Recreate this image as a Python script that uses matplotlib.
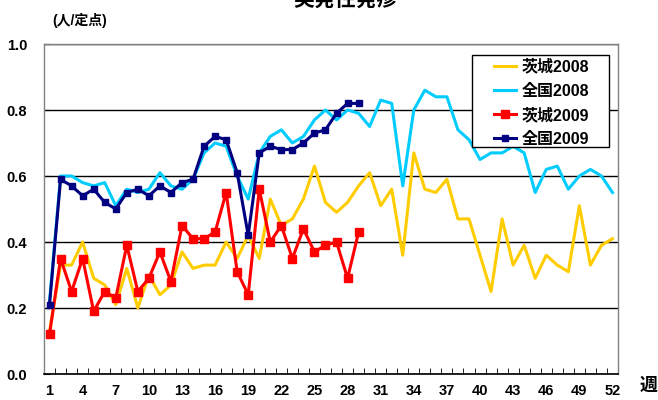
import matplotlib
matplotlib.use("Agg")
import matplotlib.pyplot as plt
from matplotlib.patches import Rectangle
from matplotlib.ticker import MultipleLocator, FixedLocator

plt.rcParams['font.family'] = ['Liberation Sans', 'Noto Sans CJK JP', 'DejaVu Sans']
plt.rcParams['font.weight'] = 'bold'

# 週 1..52
weeks = list(range(1, 53))

ibaraki_2008 = [0.13, 0.33, 0.33, 0.40, 0.29, 0.27, 0.21, 0.32, 0.20, 0.30,
                0.24, 0.27, 0.37, 0.32, 0.33, 0.33, 0.40, 0.35, 0.42, 0.35,
                0.53, 0.45, 0.47, 0.53, 0.63, 0.52, 0.49, 0.52, 0.57, 0.61,
                0.51, 0.56, 0.36, 0.67, 0.56, 0.55, 0.59, 0.47, 0.47, 0.36,
                0.25, 0.47, 0.33, 0.39, 0.29, 0.36, 0.33, 0.31, 0.51, 0.33,
                0.39, 0.41]
zenkoku_2008 = [0.22, 0.60, 0.60, 0.58, 0.57, 0.58, 0.51, 0.56, 0.55, 0.56,
                0.61, 0.57, 0.56, 0.59, 0.67, 0.70, 0.69, 0.60, 0.53, 0.67,
                0.72, 0.74, 0.70, 0.72, 0.77, 0.80, 0.77, 0.80, 0.79, 0.75,
                0.83, 0.82, 0.57, 0.80, 0.86, 0.84, 0.84, 0.74, 0.71, 0.65,
                0.67, 0.67, 0.69, 0.67, 0.55, 0.62, 0.63, 0.56, 0.60, 0.62,
                0.60, 0.55]
ibaraki_2009 = [0.12, 0.35, 0.25, 0.35, 0.19, 0.25, 0.23, 0.39, 0.25, 0.29,
                0.37, 0.28, 0.45, 0.41, 0.41, 0.43, 0.55, 0.31, 0.24, 0.56,
                0.40, 0.45, 0.35, 0.44, 0.37, 0.39, 0.40, 0.29, 0.43]
zenkoku_2009 = [0.21, 0.59, 0.57, 0.54, 0.56, 0.52, 0.50, 0.55, 0.56, 0.54,
                0.57, 0.55, 0.58, 0.59, 0.69, 0.72, 0.71, 0.61, 0.42, 0.67,
                0.69, 0.68, 0.68, 0.70, 0.73, 0.74, 0.79, 0.82, 0.82]

labels = ['茨城2008', '全国2008', '茨城2009', '全国2009']

fig = plt.figure(figsize=(6.58, 4.0), dpi=100)
ax = fig.add_axes([44 / 658, 26 / 400, 574 / 658, 330 / 400])

ax.plot(weeks, ibaraki_2008, color='#FFCC00', lw=2.2, label=labels[0])
ax.plot(weeks, zenkoku_2008, color='#00CCFF', lw=2.2, label=labels[1])
ax.plot(weeks[:len(ibaraki_2009)], ibaraki_2009, color='#FF0000', lw=2.2,
        marker='s', markersize=6, label=labels[2])
ax.plot(weeks[:len(zenkoku_2009)], zenkoku_2009, color='#000080', lw=2.2,
        marker='s', markersize=4.5, label=labels[3])

ax.set_xlim(0.5, 52.5)
ax.set_ylim(0, 1.0)
ax.yaxis.set_major_locator(MultipleLocator(0.2))
ax.set_yticklabels([f'{v:.1f}' for v in ax.get_yticks()])
ax.yaxis.grid(True, color='black', lw=1.0)
ax.set_axisbelow(True)

ax.set_xticks(weeks[::3])
ax.xaxis.set_minor_locator(FixedLocator([w + 0.5 for w in range(0, 53)]))
ax.tick_params(axis='x', which='major', length=0, pad=7, labelsize=10.5)
ax.tick_params(axis='x', which='minor', length=4, direction='in', color='black')
ax.tick_params(axis='y', length=4, direction='in', pad=12, labelsize=10.5)

for s in ['left', 'right', 'top']:
    ax.spines[s].set_color('#808080')
    ax.spines[s].set_linewidth(1.0)
ax.spines['bottom'].set_color('black')
ax.spines['bottom'].set_linewidth(1.2)

# 凡例の枠（横に余白が広い）
box = Rectangle((472 / 658, 1 - 147 / 400), 137 / 658, 92 / 400,
                transform=fig.transFigure, facecolor='white', edgecolor='black',
                lw=1.0, zorder=4)
fig.patches.append(box)
leg = fig.legend(loc='upper left', bbox_to_anchor=(494 / 658, 1 - 59 / 400),
                 fontsize=11.5, frameon=False,
                 handlelength=1.4, handletextpad=0.35, labelspacing=0.55,
                 borderpad=0, borderaxespad=0)
leg.set_zorder(5)

fig.text(346 / 658, 1.0, '突発性発疹', ha='center', va='center',
         fontsize=15, fontweight='bold')
fig.text(52 / 658, 1 - 20 / 400, '(人/定点)', ha='left', va='center',
         fontsize=10, fontweight='bold')
fig.text(649 / 658, 1 - 386 / 400, '週', ha='center', va='center',
         fontsize=13, fontweight='bold')

fig.savefig('out.png', dpi=100)
